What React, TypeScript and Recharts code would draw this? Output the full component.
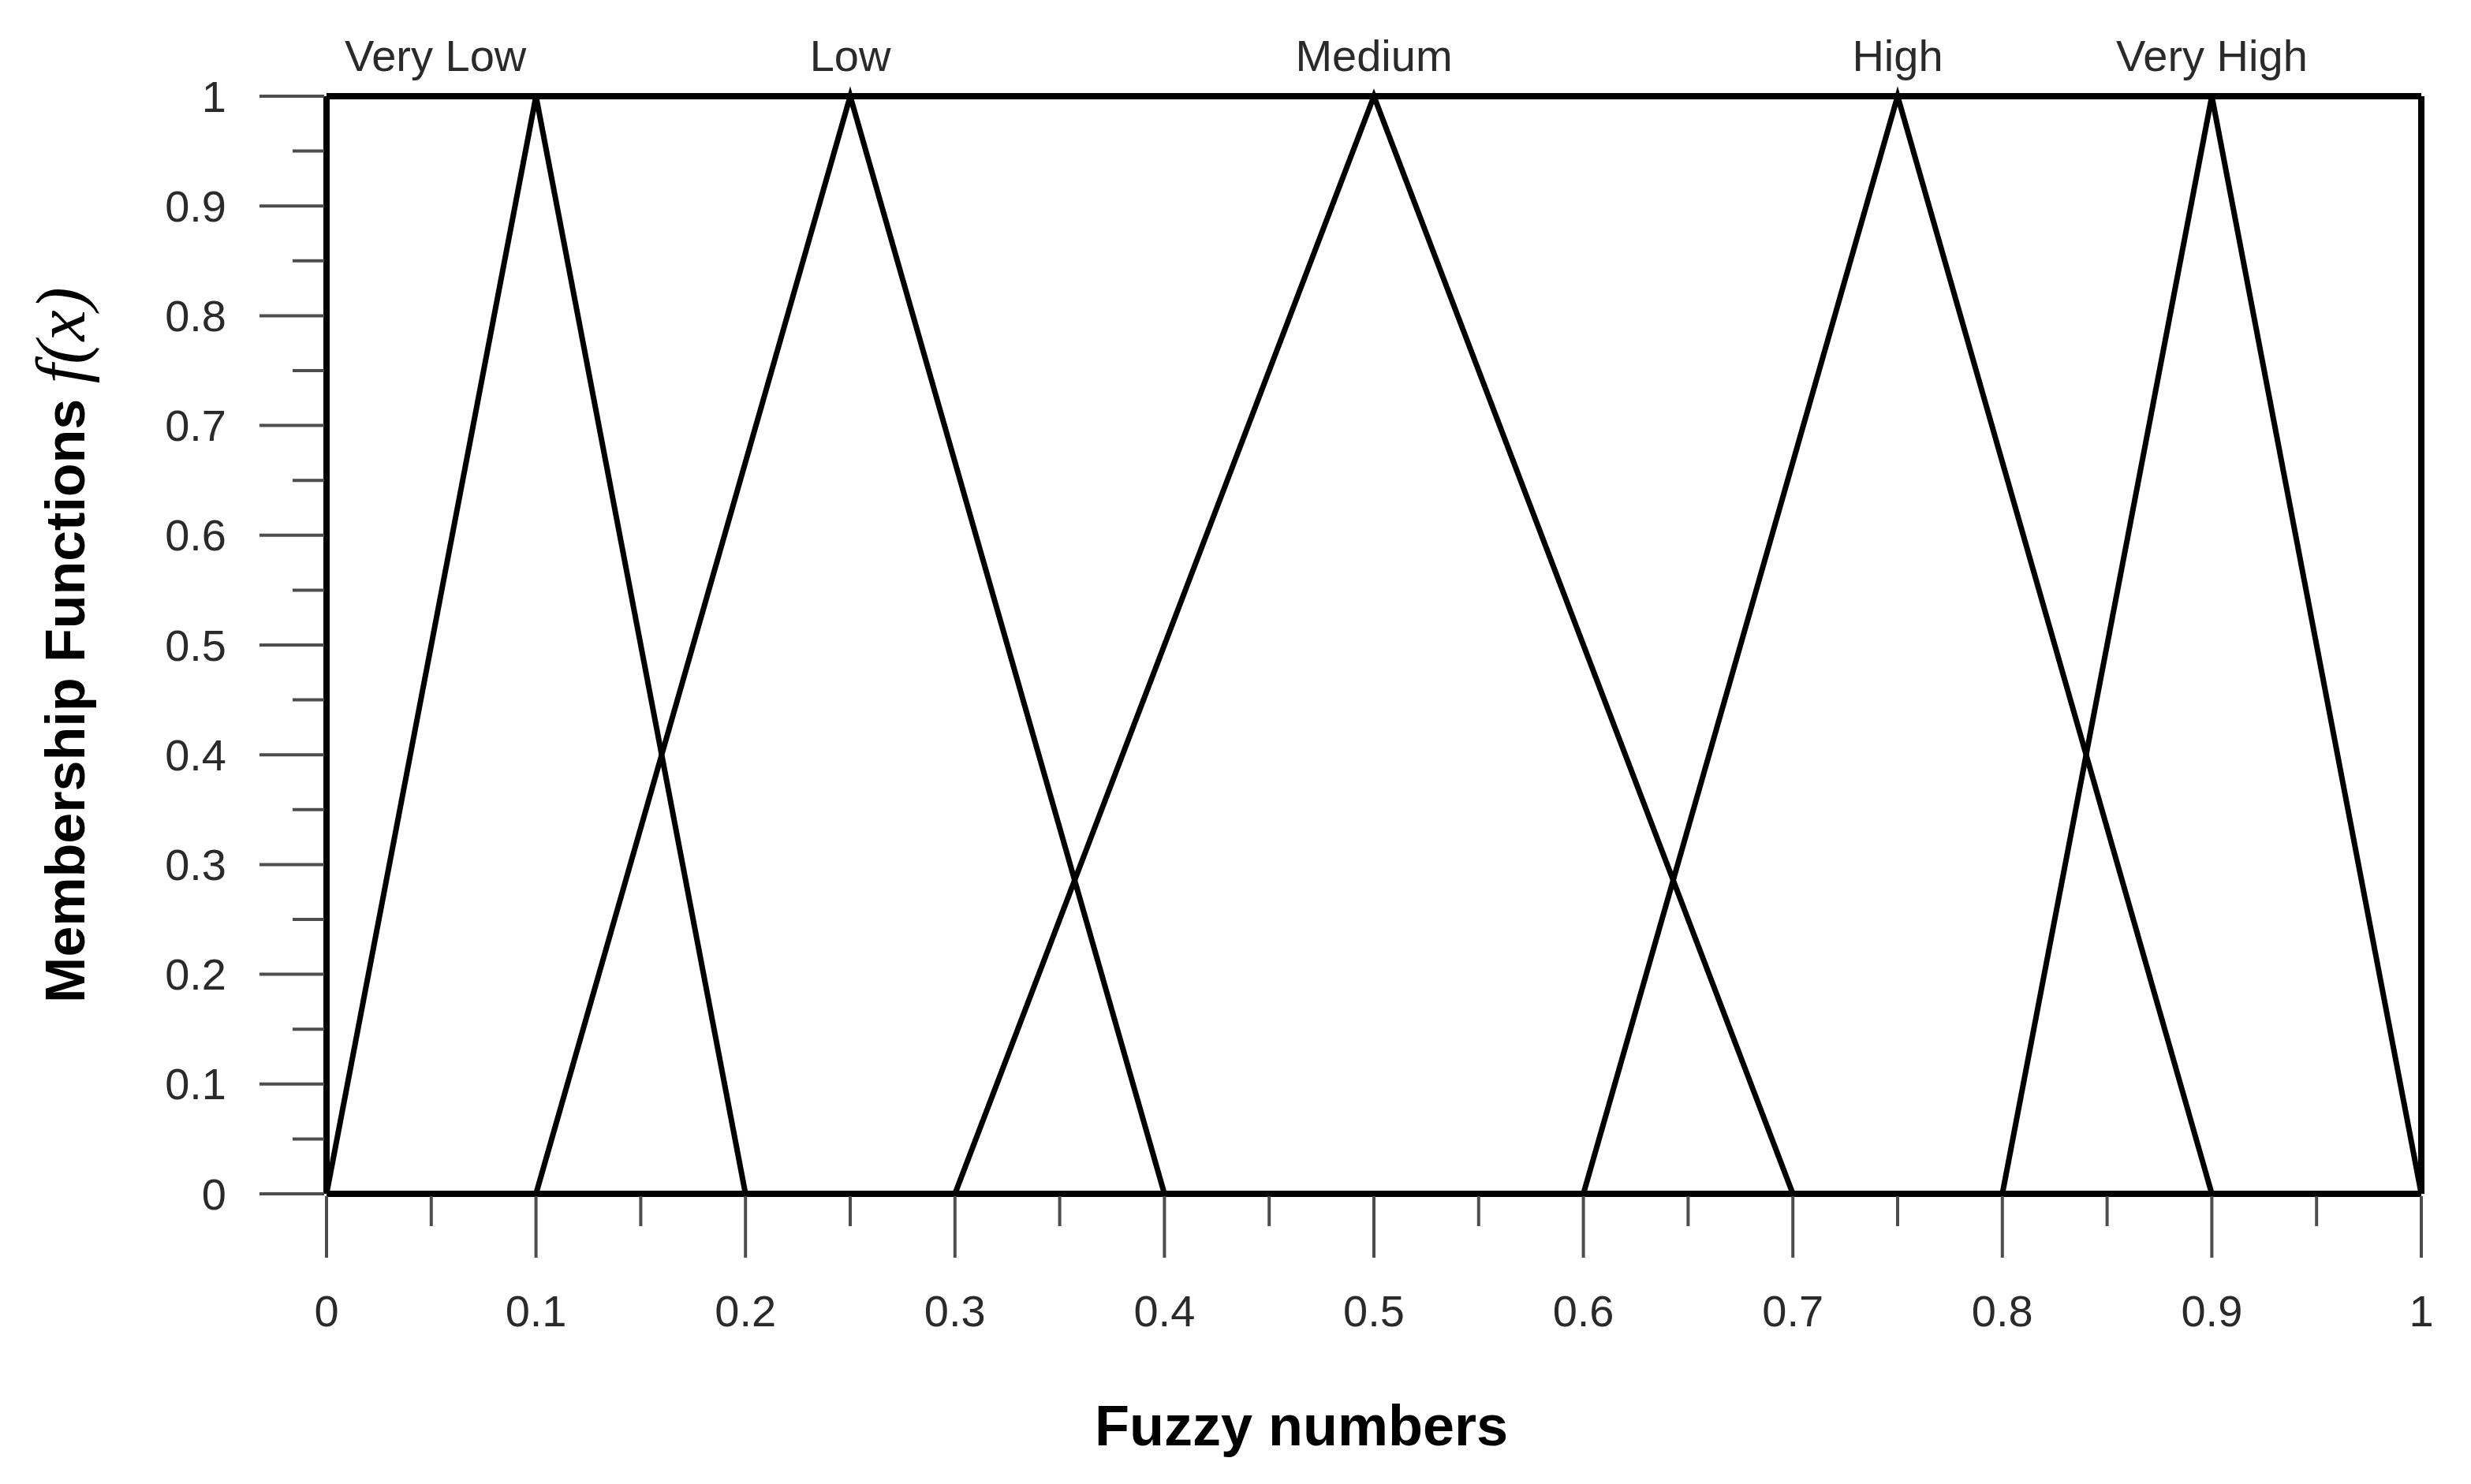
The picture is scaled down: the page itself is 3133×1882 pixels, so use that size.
import { LineChart, Line, XAxis, YAxis, ReferenceLine, ReferenceDot } from "recharts";

// Triangular fuzzy membership functions — plain black strokes on white.
const INK = "#000000";
const TICK = "#4d4d4d";
const TEXT = "#2a2a2a";
const SANS = "'Liberation Sans', Arial, Helvetica, sans-serif";
const SERIF = "'Liberation Serif', 'DejaVu Serif', serif";

const W = 3133;
const H = 1882;

const veryLow = [
  { x: 0, y: 0 },
  { x: 0.1, y: 1 },
  { x: 0.2, y: 0 },
];
const low = [
  { x: 0.1, y: 0 },
  { x: 0.25, y: 1 },
  { x: 0.4, y: 0 },
];
const medium = [
  { x: 0.3, y: 0 },
  { x: 0.5, y: 1 },
  { x: 0.7, y: 0 },
];
const high = [
  { x: 0.6, y: 0 },
  { x: 0.75, y: 1 },
  { x: 0.9, y: 0 },
];
const veryHigh = [
  { x: 0.8, y: 0 },
  { x: 0.9, y: 1 },
  { x: 1, y: 0 },
];

const series = [veryLow, low, medium, high, veryHigh];

const terms = ["Very Low", "Low", "Medium", "High", "Very High"];
const termPositions = [0.052, 0.25, 0.5, 0.75, 0.9];

const ticks = [
  0, 0.05, 0.1, 0.15, 0.2, 0.25, 0.3, 0.35, 0.4, 0.45, 0.5, 0.55, 0.6, 0.65, 0.7, 0.75, 0.8, 0.85, 0.9,
  0.95, 1,
];

const isMajor = (v: number) => Math.round(v * 100) % 10 === 0;
const fmt = (v: number) => String(Math.round(v * 10) / 10);

function XTick({ x, y, payload }: any) {
  const major = isMajor(payload.value);
  return (
    <g>
      <line x1={x} x2={x} y1={y + 3} y2={y + (major ? 81 : 41)} stroke={TICK} strokeWidth={4} />
      {major && (
        <text x={x} y={y + 148} dy="0.35em" textAnchor="middle" fontFamily={SANS} fontSize={56} fill={TEXT}>
          {fmt(payload.value)}
        </text>
      )}
    </g>
  );
}

function YTick({ x, y, payload }: any) {
  const major = isMajor(payload.value);
  return (
    <g>
      <line x1={x - (major ? 85 : 43)} x2={x - 3} y1={y} y2={y} stroke={TICK} strokeWidth={4} />
      {major && (
        <text x={x - 127} y={y} dy="0.35em" textAnchor="end" fontFamily={SANS} fontSize={56} fill={TEXT}>
          {fmt(payload.value)}
        </text>
      )}
    </g>
  );
}

const termLabel = (name: string) => (props: any) => {
  const vb = props.viewBox || {};
  return (
    <text x={vb.x} y={vb.y - 32} textAnchor="middle" fontFamily={SANS} fontSize={56} fill={TEXT}>
      {name}
    </text>
  );
};

function XTitle() {
  return (
    <text x={1650} y={1833} textAnchor="middle" fontFamily={SANS} fontSize={72} fontWeight={700} fill={INK}>
      Fuzzy numbers
    </text>
  );
}

function YTitle() {
  return (
    <text
      transform="translate(107, 818) rotate(-90)"
      textAnchor="middle"
      fontFamily={SANS}
      fontSize={70}
      fontWeight={700}
      fill={INK}
    >
      Membership Functions{" "}
      <tspan fontFamily={SERIF} fontStyle="italic" fontWeight={400} fontSize={88}>
        f(x)
      </tspan>
    </text>
  );
}

export default function App() {
  return (
    <div style={{ position: "absolute", left: 0, top: 0, width: W, height: H, background: "#fff" }}>
      <LineChart width={W} height={H} margin={{ top: 122, right: 63, bottom: 0, left: 0 }}>
        <XAxis
          dataKey="x"
          type="number"
          domain={[0, 1]}
          ticks={ticks}
          interval={0}
          tick={<XTick />}
          tickLine={false}
          tickSize={0}
          tickMargin={0}
          axisLine={{ stroke: INK, strokeWidth: 8 }}
          height={368}
          label={() => <XTitle />}
        />
        <YAxis
          type="number"
          domain={[0, 1]}
          ticks={ticks}
          interval={0}
          tick={<YTick />}
          tickLine={false}
          tickSize={0}
          tickMargin={0}
          axisLine={{ stroke: INK, strokeWidth: 8 }}
          width={414}
          label={() => <YTitle />}
        />
        <ReferenceLine y={1} stroke={INK} strokeWidth={8} />
        <ReferenceLine x={1} stroke={INK} strokeWidth={8} />
        {series.map((d, i) => (
          <Line
            key={terms[i]}
            data={d}
            dataKey="y"
            type="linear"
            stroke={INK}
            strokeWidth={7}
            dot={false}
            activeDot={false}
            isAnimationActive={false}
          />
        ))}
        {terms.map((name, i) => (
          <ReferenceDot
            key={name}
            x={termPositions[i]}
            y={1}
            r={0}
            fill="none"
            stroke="none"
            ifOverflow="visible"
            label={termLabel(name)}
          />
        ))}
      </LineChart>
    </div>
  );
}
